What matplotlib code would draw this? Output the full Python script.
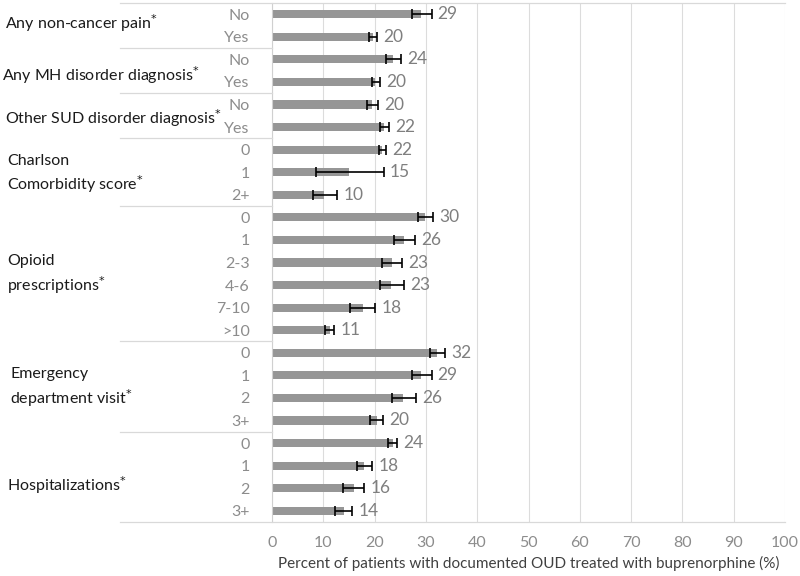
import matplotlib.pyplot as plt
from matplotlib.lines import Line2D
from matplotlib.transforms import blended_transform_factory

plt.rcParams['font.family'] = ['Lato', 'DejaVu Sans']

# row labels (top to bottom)
categorias = ['No', 'Yes', 'No', 'Yes', 'No', 'Yes',
              '0', '1', '2+',
              '0', '1', '2-3', '4-6', '7-10', '>10',
              '0', '1', '2', '3+',
              '0', '1', '2', '3+']
percentual = [29.1, 19.6, 23.6, 20.1, 19.5, 21.8,
              21.5, 15.1, 10.1,
              29.9, 25.8, 23.4, 23.2, 17.7, 11.3,
              32.2, 29.1, 25.6, 20.4,
              23.6, 17.9, 16.0, 14.0]
ic_inferior = [27.2, 18.9, 22.3, 19.4, 18.6, 21.0,
               20.8, 8.5, 7.9,
               28.5, 23.8, 21.4, 21.0, 15.2, 10.3,
               30.8, 27.2, 23.3, 19.1,
               22.7, 16.5, 13.8, 12.3]
ic_superior = [31.1, 20.4, 25.1, 21.0, 20.6, 22.9,
               22.2, 21.8, 12.7,
               31.4, 27.9, 25.4, 25.7, 20.1, 12.1,
               33.7, 31.1, 28.0, 21.6,
               24.3, 19.5, 18.0, 15.6]

grupos = ['Any non-cancer pain$^{*}$', 'Any MH disorder diagnosis$^{*}$',
          'Other SUD disorder diagnosis$^{*}$', 'Charlson\nComorbidity score$^{*}$',
          'Opioid\nprescriptions$^{*}$', 'Emergency\ndepartment visit$^{*}$',
          'Hospitalizations$^{*}$']
grupo_y = [0.4, 2.7, 4.6, 7.1, 11.55, 16.55, 20.85]
grupo_x = [5, 2, 5, 7, 7, 10, 7]
separadores = [1.5, 3.5, 5.5, 8.5, 14.5, 18.5]

fig = plt.figure(figsize=(8, 5.76), dpi=100)
ax = fig.add_axes([272 / 800, 1 - 522 / 576, (785 - 272) / 800, 519 / 576])

y = list(range(len(categorias)))
ax.barh(y, percentual, height=0.36, color='#969696', zorder=2)
err = [[p - lo for p, lo in zip(percentual, ic_inferior)],
       [hi - p for p, hi in zip(percentual, ic_superior)]]
ax.errorbar(percentual, y, xerr=err, fmt='none', ecolor='black',
            elinewidth=1.2, capsize=3.5, capthick=1.2, zorder=3)

for yi, p, hi in zip(y, percentual, ic_superior):
    ax.text(max(p, hi) + 1.2, yi, f'{round(p)}', va='center', ha='left',
            fontsize=12.5, color='#7f7f7f')

ax.set_xlim(0, 100)
ax.set_ylim(len(categorias) - 0.5, -0.5)
ax.set_xticks(range(0, 101, 10))
ax.set_yticks(y)
ax.set_yticklabels(categorias)
ax.tick_params(axis='y', length=0, pad=16, labelsize=11.5, labelcolor='#8c8c8c')
ax.tick_params(axis='x', length=0, pad=10, labelsize=11.5, labelcolor='#8c8c8c')
ax.grid(axis='x', color='#dcdcdc', linewidth=0.8, zorder=0)
for s in ['top', 'right', 'bottom']:
    ax.spines[s].set_visible(False)
ax.spines['left'].set_color('#d0d0d0')
ax.set_xlabel('Percent of patients with documented OUD treated with buprenorphine (%)',
              fontsize=11, color='#404040', labelpad=4)

trans = blended_transform_factory(fig.transFigure, ax.transData)
for s in separadores:
    fig.add_artist(Line2D([120 / 800, 272 / 800], [s, s], transform=trans,
                          color='#d9d9d9', linewidth=0.9))
for s in [-0.5, len(categorias) - 0.5]:
    fig.add_artist(Line2D([120 / 800, 785 / 800], [s, s], transform=trans,
                          color='#d9d9d9', linewidth=0.9))

for g, gy, gx in zip(grupos, grupo_y, grupo_x):
    fig.text(gx / 800, gy, g, transform=trans, va='center', ha='left',
             fontsize=11.5, color='#1a1a1a', linespacing=1.35)

fig.savefig('out.png', dpi=100)
